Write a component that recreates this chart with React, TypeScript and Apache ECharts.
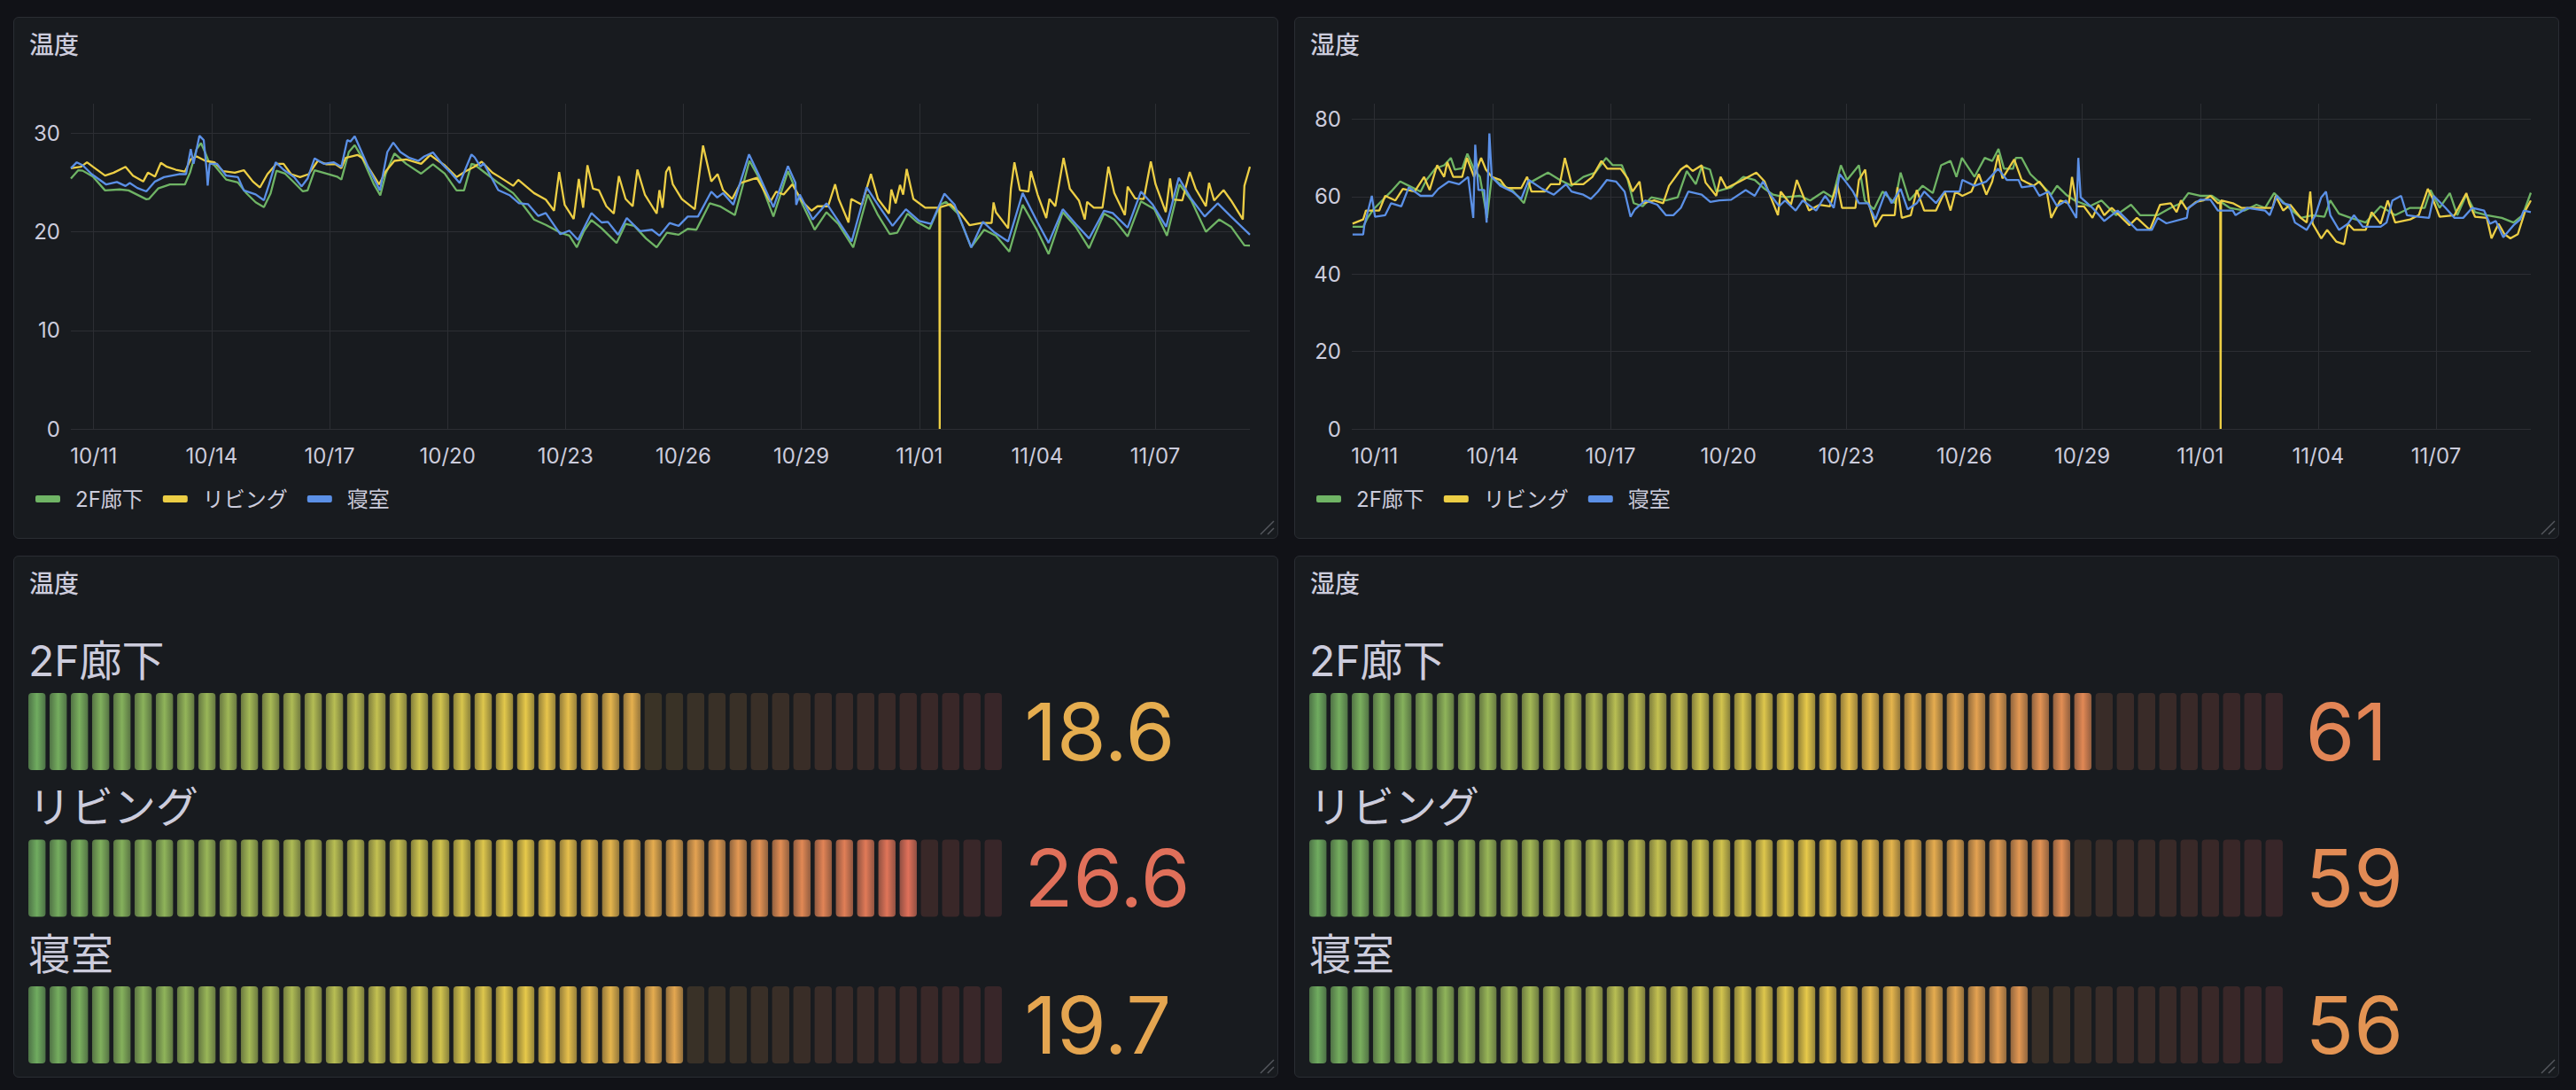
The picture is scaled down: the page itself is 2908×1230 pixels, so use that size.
import { useEffect, useRef } from 'react'
import * as echarts from 'echarts'

const NAMES = ['2F廊下', 'リビング', '寝室']
const LINE_COLORS = ['#6fb465', '#ecce45', '#5b90e6']

// x = days since 10/11 00:00
const X_MIN = -0.58
const X_MAX = 29.41
const DAY_TICKS = [0, 3, 6, 9, 12, 15, 18, 21, 24, 27]
const TEMP_TICKS = [0, 10, 20, 30]
const HUM_TICKS = [0, 20, 40, 60, 80]
const TEMP_AXIS_MAX = 33
const HUM_AXIS_MAX = 84

const TEMP_2F = [
  [-0.58, 25.4], [-0.39, 26.25], [-0.28, 26.2], [-0.02, 25.6], [0.29, 24.2], [0.66, 24.3], [0.89, 24.2], [1.34, 23.3],
  [1.41, 23.35], [1.64, 24.4], [1.94, 24.8], [2.32, 24.8], [2.45, 26.0], [2.62, 28.4], [2.73, 29.0], [2.83, 28.1],
  [2.92, 27.2], [3.07, 26.75], [3.37, 25.3], [3.67, 25.0], [3.89, 23.9], [4.12, 23.0], [4.33, 22.5], [4.5, 23.9],
  [4.65, 26.2], [4.87, 25.9], [5.1, 25.0], [5.32, 24.1], [5.44, 24.2], [5.62, 26.25], [5.92, 25.9], [6.19, 25.6],
  [6.3, 25.3], [6.49, 28.1], [6.64, 28.8], [6.83, 27.5], [7.13, 24.8], [7.29, 23.7], [7.43, 25.9], [7.65, 27.95],
  [7.95, 26.9], [8.33, 25.9], [8.63, 26.85], [8.93, 25.9], [9.23, 24.2], [9.42, 24.2], [9.61, 26.9], [9.69, 26.8],
  [9.92, 26.1], [10.29, 24.97], [10.67, 23.93], [10.89, 22.89], [11.2, 21.25], [11.5, 20.71], [11.87, 19.91], [12.1, 19.61],
  [12.29, 18.42], [12.47, 20.06], [12.66, 21.19], [12.92, 20.36], [13.3, 18.87], [13.53, 20.8], [13.75, 20.6], [14.05, 19.32],
  [14.32, 18.42], [14.58, 19.91], [14.88, 19.7], [15.11, 20.3], [15.33, 20.21], [15.67, 22.89], [15.93, 22.59], [16.31, 21.7],
  [16.68, 27.2], [16.91, 25.57], [17.29, 21.55], [17.66, 26.16], [17.89, 23.93], [18.34, 20.21], [18.64, 21.99], [18.94, 20.8],
  [19.32, 18.42], [19.69, 23.78], [19.95, 21.7], [20.25, 19.76], [20.44, 19.91], [20.7, 21.85], [20.96, 20.95], [21.26, 20.3],
  [21.53, 22.74], [21.68, 23.04], [21.98, 21.85], [22.32, 18.42], [22.65, 20.21], [22.95, 19.61], [23.29, 17.98], [23.63, 22.74],
  [24.01, 20.06], [24.29, 17.74], [24.65, 21.99], [24.98, 20.51], [25.32, 18.33], [25.7, 21.85], [25.96, 21.25], [26.3, 19.52],
  [26.64, 23.09], [26.98, 22.29], [27.3, 19.61], [27.62, 24.82], [27.92, 23.18], [28.29, 20.0], [28.63, 21.25], [28.93, 20.51],
  [29.27, 18.63], [29.41, 18.6],
]

const TEMP_LIVING = [
  [-0.58, 26.45], [-0.32, 26.6], [-0.17, 27.05], [-0.02, 26.6], [0.29, 25.7], [0.51, 26.0], [0.81, 26.6], [1.0, 25.7],
  [1.26, 25.1], [1.38, 26.0], [1.56, 25.6], [1.71, 27.0], [1.86, 26.6], [2.09, 26.3], [2.32, 26.1], [2.47, 27.35],
  [2.62, 27.65], [2.84, 27.2], [3.07, 27.05], [3.29, 26.15], [3.59, 26.0], [3.82, 26.25], [4.05, 25.1], [4.23, 24.5],
  [4.42, 25.85], [4.65, 26.9], [4.83, 26.9], [5.02, 25.85], [5.25, 25.55], [5.47, 25.85], [5.7, 27.2], [5.92, 26.85],
  [6.15, 26.85], [6.3, 26.45], [6.41, 27.5], [6.71, 27.8], [6.83, 27.5], [7.05, 26.15], [7.26, 24.8], [7.43, 26.15],
  [7.65, 27.2], [7.95, 27.35], [8.33, 26.9], [8.56, 27.8], [8.71, 27.35], [8.93, 26.75], [9.23, 25.55], [9.46, 26.15],
  [9.68, 26.6], [9.87, 27.11], [10.14, 26.01], [10.32, 25.57], [10.67, 24.67], [10.8, 25.27], [11.2, 23.93], [11.5, 23.27],
  [11.71, 22.14], [11.84, 26.07], [11.98, 22.74], [12.21, 21.31], [12.34, 25.36], [12.45, 22.44], [12.56, 26.76], [12.7, 24.37],
  [12.85, 24.23], [13.04, 22.59], [13.23, 21.85], [13.36, 25.65], [13.53, 23.33], [13.71, 22.59], [13.83, 26.31], [14.02, 23.78],
  [14.32, 21.85], [14.39, 24.23], [14.47, 22.44], [14.56, 26.07], [14.64, 26.61], [14.73, 24.82], [14.96, 23.33], [15.29, 22.29],
  [15.5, 28.75], [15.71, 25.12], [15.87, 25.86], [16.01, 24.23], [16.24, 23.33], [16.46, 24.97], [16.87, 25.48], [17.21, 23.04],
  [17.36, 24.08], [17.55, 23.78], [17.77, 24.82], [18.03, 23.04], [18.26, 22.14], [18.41, 22.59], [18.68, 22.59], [18.86, 24.82],
  [18.95, 23.33], [19.2, 20.95], [19.27, 23.33], [19.54, 22.74], [19.77, 25.86], [19.95, 23.33], [20.23, 21.85], [20.29, 24.29],
  [20.4, 22.89], [20.51, 24.76], [20.59, 23.78], [20.68, 26.37], [20.85, 23.33], [21.15, 22.44], [21.51, 22.44], [21.52, 0],
  [21.53, 22.5], [21.79, 22.8], [22.05, 21.85], [22.28, 20.66], [22.58, 20.89], [22.84, 20.89], [22.89, 22.98], [22.95, 21.99],
  [23.26, 20.36], [23.33, 24.37], [23.42, 27.05], [23.56, 24.23], [23.78, 24.08], [23.84, 26.16], [24.01, 23.78], [24.23, 21.4],
  [24.31, 23.33], [24.46, 22.59], [24.67, 27.5], [24.83, 24.37], [25.06, 23.18], [25.21, 21.25], [25.27, 23.04], [25.44, 22.44],
  [25.66, 22.44], [25.81, 26.61], [25.96, 23.93], [26.23, 21.7], [26.3, 24.58], [26.49, 23.39], [26.71, 23.33], [26.89, 27.14],
  [27.01, 24.82], [27.27, 21.99], [27.38, 25.42], [27.45, 23.27], [27.69, 23.18], [27.88, 26.07], [28.03, 24.37], [28.29, 22.59],
  [28.37, 24.97], [28.5, 23.18], [28.74, 24.23], [28.93, 23.18], [29.23, 21.25], [29.27, 24.67], [29.41, 26.6],
]

const TEMP_BEDROOM = [
  [-0.58, 26.45], [-0.43, 27.05], [-0.28, 26.75], [-0.05, 25.85], [0.32, 24.8], [0.59, 25.05], [0.81, 24.65], [0.92, 24.95],
  [1.11, 24.45], [1.34, 24.1], [1.56, 25.1], [1.79, 25.55], [2.17, 25.85], [2.35, 25.85], [2.47, 28.4], [2.54, 26.9],
  [2.69, 29.75], [2.8, 29.3], [2.88, 26.0], [2.9, 24.7], [2.95, 26.9], [3.14, 26.9], [3.37, 25.7], [3.67, 25.55],
  [3.82, 24.2], [4.12, 23.8], [4.33, 23.2], [4.46, 24.8], [4.63, 27.05], [4.83, 26.3], [5.1, 25.55], [5.29, 24.6],
  [5.44, 25.4], [5.62, 27.45], [5.85, 26.9], [6.11, 27.05], [6.3, 26.6], [6.45, 29.3], [6.53, 29.15], [6.64, 29.7],
  [6.75, 28.7], [6.98, 26.6], [7.28, 24.2], [7.47, 28.1], [7.62, 29.05], [7.8, 28.1], [8.03, 27.5], [8.26, 27.2],
  [8.41, 27.65], [8.63, 28.05], [8.86, 26.9], [9.08, 26.0], [9.31, 24.95], [9.61, 27.85], [9.69, 27.56], [9.84, 26.61],
  [9.92, 26.96], [10.29, 24.23], [10.59, 23.69], [10.82, 22.89], [11.05, 22.8], [11.31, 21.61], [11.5, 21.9], [11.87, 19.76],
  [12.1, 20.12], [12.32, 19.17], [12.66, 21.9], [12.92, 20.95], [13.08, 21.01], [13.34, 19.7], [13.56, 21.4], [13.9, 20.06],
  [14.2, 20.21], [14.39, 19.61], [14.65, 20.89], [14.88, 20.6], [15.11, 21.55], [15.37, 21.55], [15.71, 24.08], [15.86, 23.48],
  [16.01, 23.93], [16.27, 22.74], [16.67, 27.86], [16.91, 25.86], [17.29, 22.5], [17.66, 26.67], [17.85, 24.97], [17.87, 22.74],
  [17.96, 23.78], [18.29, 21.25], [18.64, 22.89], [18.94, 21.1], [19.28, 19.02], [19.66, 24.52], [19.95, 22.74], [20.32, 20.6],
  [20.66, 22.29], [21.0, 21.1], [21.3, 20.8], [21.64, 23.87], [21.9, 22.74], [22.32, 18.42], [22.62, 21.01], [22.92, 19.91],
  [23.26, 19.02], [23.63, 23.93], [24.01, 20.95], [24.29, 18.87], [24.65, 22.29], [24.98, 20.8], [25.32, 19.32], [25.7, 22.14],
  [25.92, 21.9], [26.3, 20.42], [26.64, 24.08], [26.94, 22.74], [27.28, 20.51], [27.6, 25.48], [27.92, 23.33], [28.26, 21.55],
  [28.59, 22.89], [28.93, 21.55], [29.41, 19.7],
]

const HUM_2F = [
  [-0.56, 52.2], [-0.29, 52.2], [-0.18, 54.5], [-0.03, 56.7], [0.27, 59.8], [0.42, 61.3], [0.65, 63.9], [0.87, 62.8],
  [1.17, 61.3], [1.32, 64.3], [1.55, 67.3], [1.77, 68.1], [1.94, 70.0], [2.04, 67.0], [2.23, 67.3], [2.36, 71.1],
  [2.53, 67.0], [2.68, 65.1], [2.86, 54.5], [2.98, 65.1], [3.2, 63.2], [3.5, 61.7], [3.8, 58.3], [3.95, 63.6],
  [4.41, 66.2], [4.71, 64.3], [5.01, 62.8], [5.31, 65.1], [5.61, 66.2], [5.89, 70.0], [6.06, 68.1], [6.29, 68.1],
  [6.44, 64.3], [6.59, 58.3], [6.82, 57.5], [7.04, 59.8], [7.41, 59.0], [7.71, 59.8], [7.94, 66.6], [8.17, 63.2],
  [8.32, 67.7], [8.53, 67.0], [8.69, 61.3], [9.07, 62.4], [9.38, 65.1], [9.67, 64.3], [9.92, 62.0], [10.14, 60.5],
  [10.44, 59.8], [10.82, 60.2], [11.08, 59.0], [11.42, 61.3], [11.65, 59.8], [11.86, 68.1], [12.02, 64.3], [12.32, 68.1],
  [12.47, 59.0], [12.7, 56.7], [12.92, 61.3], [13.23, 58.3], [13.38, 66.2], [13.6, 59.0], [13.94, 62.8], [14.2, 60.9],
  [14.41, 68.1], [14.65, 69.2], [14.8, 65.1], [14.94, 70.0], [15.26, 65.1], [15.52, 70.0], [15.71, 69.2], [15.87, 72.3],
  [16.01, 67.2], [16.24, 67.2], [16.31, 70.0], [16.46, 70.0], [16.68, 65.8], [16.99, 62.8], [17.21, 60.5], [17.36, 62.8],
  [17.59, 60.5], [17.81, 59.0], [18.19, 57.5], [18.49, 59.0], [18.86, 55.2], [19.24, 57.9], [19.47, 55.2], [19.92, 55.2],
  [20.25, 57.1], [20.51, 58.3], [20.7, 60.9], [21.0, 60.2], [21.3, 60.2], [21.75, 57.1], [22.13, 56.4], [22.43, 57.9],
  [22.65, 57.1], [22.88, 60.9], [23.26, 57.1], [23.56, 54.5], [23.86, 55.2], [24.16, 54.8], [24.31, 59.0], [24.53, 55.6],
  [24.83, 54.5], [25.21, 53.3], [25.59, 57.5], [25.96, 55.2], [26.34, 57.1], [26.71, 57.1], [26.86, 61.7], [27.09, 57.1],
  [27.35, 60.9], [27.54, 55.2], [27.77, 60.5], [27.99, 56.0], [28.29, 55.2], [28.67, 54.5], [28.97, 53.3], [29.2, 55.2],
  [29.41, 61.0],
]

const HUM_LIVING = [
  [-0.56, 53.0], [-0.29, 54.1], [-0.22, 56.4], [0.12, 56.4], [0.27, 60.2], [0.53, 59.0], [0.72, 62.0], [1.02, 61.3],
  [1.26, 65.1], [1.4, 61.7], [1.59, 68.1], [1.77, 65.1], [1.85, 68.9], [2.0, 65.1], [2.23, 65.1], [2.35, 70.0],
  [2.53, 65.1], [2.71, 70.0], [2.83, 67.0], [2.98, 65.1], [3.2, 64.3], [3.35, 62.2], [3.73, 62.2], [3.88, 65.1],
  [3.99, 61.3], [4.33, 61.3], [4.48, 63.2], [4.71, 63.2], [4.84, 70.0], [5.01, 63.2], [5.31, 63.2], [5.54, 65.1],
  [5.77, 69.2], [5.92, 67.2], [6.26, 67.2], [6.44, 64.7], [6.56, 61.3], [6.74, 63.9], [6.82, 58.3], [7.11, 59.0],
  [7.34, 58.3], [7.49, 62.8], [7.79, 67.0], [7.94, 68.1], [8.09, 66.6], [8.32, 68.1], [8.42, 63.6], [8.69, 60.2],
  [8.8, 65.1], [8.95, 62.2], [9.29, 63.9], [9.71, 66.2], [9.92, 63.9], [10.26, 55.2], [10.33, 61.3], [10.59, 57.9],
  [10.74, 64.3], [11.05, 56.4], [11.32, 57.9], [11.58, 57.5], [11.77, 63.2], [11.89, 57.1], [12.23, 57.1], [12.32, 64.3],
  [12.48, 67.0], [12.59, 57.5], [12.74, 52.2], [12.92, 55.2], [13.23, 55.2], [13.3, 62.4], [13.41, 54.5], [13.64, 55.2],
  [13.79, 61.7], [13.98, 56.4], [14.28, 56.4], [14.5, 61.3], [14.65, 56.4], [14.77, 61.3], [14.95, 60.2], [15.18, 61.3],
  [15.37, 65.8], [15.56, 60.5], [15.71, 63.9], [15.86, 70.8], [15.97, 64.7], [16.27, 69.6], [16.46, 64.3], [16.76, 62.8],
  [16.91, 63.9], [17.1, 61.3], [17.21, 54.5], [17.44, 59.0], [17.66, 58.3], [17.74, 65.1], [17.86, 57.5], [18.04, 57.5],
  [18.26, 54.5], [18.41, 57.9], [18.56, 55.2], [18.75, 57.1], [19.2, 52.6], [19.39, 54.5], [19.72, 51.4], [19.98, 57.9],
  [20.25, 58.3], [20.4, 56.0], [20.51, 59.0], [20.66, 56.7], [20.89, 58.6], [21.08, 59.0], [21.26, 60.2], [21.45, 58.3],
  [21.51, 58.5], [21.52, 0], [21.53, 59.0], [21.83, 58.3], [22.05, 57.1], [22.43, 57.1], [22.84, 57.1], [22.92, 60.2],
  [23.11, 56.4], [23.29, 57.9], [23.56, 54.5], [23.71, 53.3], [23.8, 61.3], [23.86, 53.0], [24.08, 49.2], [24.23, 51.4],
  [24.46, 48.4], [24.66, 47.7], [24.76, 53.0], [24.91, 51.4], [25.21, 51.4], [25.36, 56.0], [25.59, 53.0], [25.77, 59.0],
  [25.96, 53.3], [26.34, 54.1], [26.56, 55.2], [26.79, 62.0], [26.9, 59.8], [27.09, 54.8], [27.47, 55.2], [27.77, 60.9],
  [27.84, 58.3], [27.99, 54.8], [28.29, 54.5], [28.41, 49.2], [28.59, 53.0], [28.74, 50.3], [28.89, 49.2], [29.08, 50.3],
  [29.27, 56.4], [29.41, 59.0],
]

const HUM_BEDROOM = [
  [-0.56, 50.2], [-0.29, 50.2], [-0.26, 52.6], [-0.07, 60.2], [0.01, 54.8], [0.27, 55.2], [0.42, 58.3], [0.68, 57.5],
  [0.87, 62.4], [1.17, 60.2], [1.47, 60.2], [1.62, 62.0], [1.89, 63.9], [2.15, 63.2], [2.38, 65.1], [2.51, 54.5],
  [2.56, 73.4], [2.64, 61.7], [2.79, 61.7], [2.85, 53.3], [2.92, 76.3], [2.98, 65.1], [3.2, 62.8], [3.5, 61.3],
  [3.73, 59.4], [3.92, 64.3], [4.26, 62.0], [4.56, 60.5], [4.87, 63.2], [5.01, 61.3], [5.31, 60.5], [5.5, 59.4],
  [5.68, 61.3], [5.91, 64.3], [6.14, 63.9], [6.36, 61.3], [6.51, 54.8], [6.62, 56.7], [6.89, 59.0], [7.19, 57.9],
  [7.41, 55.2], [7.6, 55.2], [7.79, 57.1], [7.98, 61.3], [8.32, 60.5], [8.54, 58.6], [8.77, 59.0], [9.07, 59.2],
  [9.44, 61.7], [9.67, 60.2], [9.88, 63.9], [10.07, 60.5], [10.29, 57.5], [10.44, 59.0], [10.71, 56.4], [10.89, 59.0],
  [11.23, 56.4], [11.46, 60.2], [11.68, 57.1], [11.83, 65.8], [11.98, 63.9], [12.17, 61.3], [12.32, 58.3], [12.55, 58.3],
  [12.74, 54.1], [13.0, 61.3], [13.15, 58.3], [13.38, 62.0], [13.56, 56.7], [13.79, 58.3], [13.98, 61.3], [14.28, 58.3],
  [14.5, 61.3], [14.88, 61.3], [14.95, 64.3], [15.26, 62.8], [15.56, 63.9], [15.86, 67.2], [16.08, 64.3], [16.38, 64.3],
  [16.46, 62.4], [16.76, 62.8], [16.91, 60.2], [17.14, 61.3], [17.36, 57.5], [17.59, 59.0], [17.85, 54.5], [17.9, 70.0],
  [17.96, 59.8], [18.26, 57.1], [18.56, 53.7], [18.9, 56.4], [19.09, 54.5], [19.39, 51.4], [19.77, 51.4], [19.92, 54.5],
  [20.14, 53.1], [20.66, 54.5], [20.7, 57.1], [21.0, 59.2], [21.26, 59.2], [21.45, 56.4], [21.83, 56.4], [21.9, 55.2],
  [22.2, 57.1], [22.65, 56.4], [22.77, 55.2], [22.95, 60.2], [23.11, 58.3], [23.26, 57.9], [23.41, 53.3], [23.71, 51.4],
  [23.93, 55.2], [24.08, 59.8], [24.2, 61.3], [24.31, 55.2], [24.53, 51.4], [24.76, 53.0], [24.91, 55.2], [25.14, 52.2],
  [25.59, 52.2], [25.74, 53.3], [25.89, 59.0], [26.11, 60.2], [26.26, 55.2], [26.56, 54.8], [26.82, 54.5], [26.94, 60.2],
  [27.24, 57.1], [27.47, 54.5], [27.69, 54.5], [27.92, 57.1], [28.22, 56.4], [28.37, 53.0], [28.52, 53.7], [28.71, 49.5],
  [28.97, 52.6], [29.14, 54.1], [29.23, 56.4], [29.41, 56.0],
]

// latest values shown in the bar gauges
const TEMP_NOW = [18.6, 26.6, 19.7]
const HUM_NOW = [61, 59, 56]
const TEMP_GAUGE_MAX = 29.8
const HUM_GAUGE_MAX = 76.3
const CELLS = 46

const FONT = 'Inter, "Noto Sans CJK JP", sans-serif'
const TEXT = '#ccccdc'
const GRID = '#2c2e33'
const PANEL_BG = '#181b1f'
const PAGE_BG = '#111217'

// continuous green-yellow-red scheme
const SCALE = [
  [112, 172, 96],
  [231, 201, 74],
  [222, 88, 94],
]

function scaleColor(t: number) {
  const k = Math.max(0, Math.min(1, t))
  const [a, b, f] = k < 0.5 ? [SCALE[0], SCALE[1], k * 2] : [SCALE[1], SCALE[2], (k - 0.5) * 2]
  return a.map((v, i) => Math.round(v + (b[i] - v) * f))
}
const rgba = (c: number[], a: number) => `rgba(${c[0]},${c[1]},${c[2]},${a})`

function dayLabel(v: number) {
  const dt = new Date(2023, 9, 11 + Math.round(v))
  return `${dt.getMonth() + 1}/${String(dt.getDate()).padStart(2, '0')}`
}

function lineOption(title: string, data: number[][][], yMax: number, yTicks: number[]) {
  return {
    animation: false,
    title: {
      text: title,
      left: 17,
      top: 17,
      padding: 0,
      textStyle: { color: TEXT, fontSize: 28, fontWeight: 500, fontFamily: FONT },
    },
    legend: {
      data: NAMES,
      left: 24,
      top: 531,
      padding: 0,
      icon: 'roundRect',
      itemWidth: 28,
      itemHeight: 8,
      itemGap: 22,
      textStyle: { color: TEXT, fontSize: 24, fontFamily: FONT, padding: [0, 0, 0, 12] },
    },
    grid: { left: 64, right: 31, top: 97, bottom: 123 },
    xAxis: {
      type: 'value',
      min: X_MIN,
      max: X_MAX,
      axisLine: { show: false },
      axisTick: { show: false, customValues: DAY_TICKS },
      axisLabel: {
        customValues: DAY_TICKS,
        formatter: dayLabel,
        color: TEXT,
        fontSize: 24,
        fontFamily: FONT,
        margin: 18,
      },
      splitLine: { show: true, lineStyle: { color: GRID, width: 1 } },
    },
    yAxis: {
      type: 'value',
      min: 0,
      max: yMax,
      axisLine: { show: false },
      axisTick: { show: false, customValues: yTicks },
      axisLabel: { customValues: yTicks, color: TEXT, fontSize: 24, fontFamily: FONT, margin: 12 },
      splitLine: { show: true, lineStyle: { color: GRID, width: 1 } },
    },
    series: NAMES.map((name, i) => ({
      type: 'line',
      name,
      data: data[i],
      symbol: 'none',
      z: 2 + i,
      lineStyle: { width: 2.3, color: LINE_COLORS[i] },
      itemStyle: { color: LINE_COLORS[i] },
      emphasis: { disabled: true },
    })),
  }
}

function gaugeOption(title: string, values: number[], max: number, digits: number) {
  const cells: number[][] = []
  values.forEach((v, r) => {
    for (let i = 0; i < CELLS; i++) cells.push([i, r, v >= (max * i) / CELLS ? 1 : 0])
  })

  return {
    animation: false,
    title: {
      text: title,
      left: 17,
      top: 17,
      padding: 0,
      textStyle: { color: TEXT, fontSize: 28, fontWeight: 500, fontFamily: FONT },
    },
    grid: { left: 16, right: 306.5, top: 75.5, bottom: 15 },
    xAxis: { type: 'value', min: 0, max: CELLS, show: false },
    yAxis: { type: 'category', data: NAMES, inverse: true, show: false },
    series: [
      {
        type: 'custom',
        silent: true,
        clip: false,
        data: cells,
        renderItem: (_p: any, api: any) => {
          const i = api.value(0)
          const r = api.value(1)
          const [x0, yc] = api.coord([i, r])
          const [x1] = api.coord([i + 1, r])
          const band = api.size([0, 1])[1]
          const barH = band * 0.526
          const c = scaleColor(i / CELLS)
          const lit = api.value(2) === 1
          return {
            type: 'rect',
            shape: { x: x0, y: yc + band / 2 - barH, width: (x1 - x0) * 0.81, height: barH, r: 4 },
            style: {
              fill: lit
                ? {
                    type: 'linear',
                    x: 0,
                    y: 0,
                    x2: 1,
                    y2: 0,
                    colorStops: [
                      { offset: 0, color: rgba(c, 0.6) },
                      { offset: 0.5, color: rgba(c, 1) },
                      { offset: 1, color: rgba(c, 0.6) },
                    ],
                  }
                : rgba(c, 0.17),
            },
          }
        },
      },
      {
        type: 'custom',
        silent: true,
        clip: false,
        data: values.map((v, r) => [0, r, v]),
        renderItem: (_p: any, api: any) => {
          const r = api.value(1)
          const v = api.value(2)
          const [x0, yc] = api.coord([0, r])
          const [xEnd] = api.coord([CELLS, r])
          const band = api.size([0, 1])[1]
          const barH = band * 0.526
          return {
            type: 'group',
            children: [
              {
                type: 'text',
                x: x0,
                y: yc - band / 2 + 41.5,
                style: {
                  text: NAMES[r],
                  fill: TEXT,
                  fontSize: 48,
                  fontFamily: FONT,
                  align: 'left',
                  verticalAlign: 'middle',
                },
              },
              {
                type: 'text',
                x: xEnd + 21,
                y: yc + band / 2 - barH / 2,
                style: {
                  text: v.toFixed(digits),
                  fill: rgba(scaleColor(v / max), 1),
                  fontSize: 90,
                  fontFamily: FONT,
                  align: 'left',
                  verticalAlign: 'middle',
                },
              },
            ],
          }
        },
      },
    ],
  }
}

function Panel({ left, top, option }: { left: number; top: number; option: any }) {
  const ref = useRef<HTMLDivElement>(null)

  useEffect(() => {
    if (!ref.current) return
    const chart = echarts.init(ref.current, null, { renderer: 'svg' })
    chart.setOption(option)
    return () => chart.dispose()
  }, [option])

  return (
    <div
      style={{
        position: 'absolute',
        left,
        top,
        width: 1428,
        height: 589,
        boxSizing: 'border-box',
        background: PANEL_BG,
        border: '1px solid #2a2d33',
        borderRadius: 6,
      }}
    >
      <div ref={ref} style={{ width: '100%', height: '100%' }} />
      <svg width={20} height={20} style={{ position: 'absolute', right: 2, bottom: 2 }}>
        <line x1={3} y1={18} x2={18} y2={3} stroke="#55585e" strokeWidth={1.5} />
        <line x1={11} y1={18} x2={18} y2={11} stroke="#55585e" strokeWidth={1.5} />
      </svg>
    </div>
  )
}

const tempLine = lineOption('温度', [TEMP_2F, TEMP_LIVING, TEMP_BEDROOM], TEMP_AXIS_MAX, TEMP_TICKS)
const humLine = lineOption('湿度', [HUM_2F, HUM_LIVING, HUM_BEDROOM], HUM_AXIS_MAX, HUM_TICKS)
const tempGauge = gaugeOption('温度', TEMP_NOW, TEMP_GAUGE_MAX, 1)
const humGauge = gaugeOption('湿度', HUM_NOW, HUM_GAUGE_MAX, 0)

export default function App() {
  return (
    <div style={{ position: 'fixed', left: 0, top: 0, width: 2908, height: 1230, background: PAGE_BG, overflow: 'hidden' }}>
      <Panel left={15} top={19} option={tempLine} />
      <Panel left={1461} top={19} option={humLine} />
      <Panel left={15} top={627} option={tempGauge} />
      <Panel left={1461} top={627} option={humGauge} />
    </div>
  )
}
